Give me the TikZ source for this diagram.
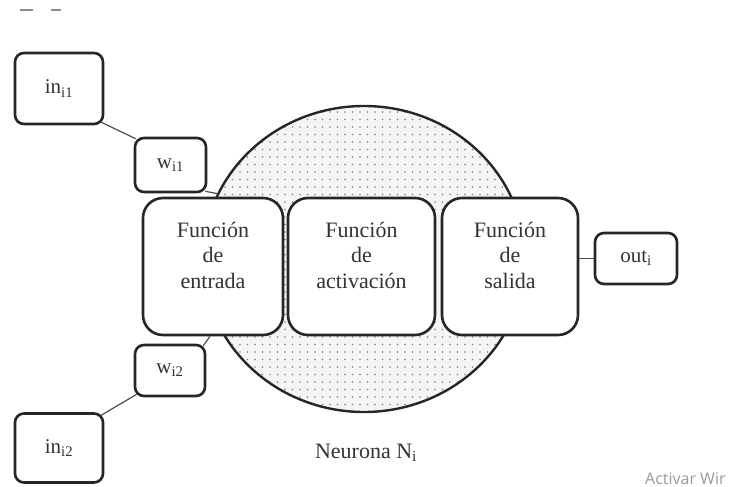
\documentclass[tikz,border=0pt]{standalone}
\usepackage{fontspec}
\setmainfont{Liberation Serif}
\newfontfamily\wmfont{Open Sans}
\usetikzlibrary{shapes.geometric,patterns.meta}
\begin{document}
\begin{tikzpicture}[x=1pt,y=1pt,
  box/.style={draw=black!85, line width=2.6pt, rounded corners=9pt, fill=white, inner sep=0pt,
              font=\fontsize{21}{24}\selectfont, text=black!80},
  bigbox/.style={box, rounded corners=20pt, minimum height=137pt},
  fn/.style={font=\fontsize{22}{25.5}\selectfont, align=center, inner sep=0pt, anchor=north, text=black!80},
  conn/.style={draw=black!70, line width=1.2pt},
  neuronstyle/.style={ellipse, draw=black!85, line width=2.4pt, inner sep=0pt,
              preaction={fill=black!4}, pattern={Dots[distance=7.5pt,radius=0.8pt]}, pattern color=black!50}]
\useasboundingbox (0,0) rectangle (734,-487);

% top-left fragments
\draw[black!45, line width=1.5pt] (20,-10) -- (33,-10);
\draw[black!45, line width=1.5pt] (51,-10) -- (61,-10);

% neuron body
\node[neuronstyle, minimum width=322pt, minimum height=306pt] (neuron) at (364,-259) {};

% function boxes
\node[bigbox, minimum width=140pt] (entrada) at (213,-266.5) {};
\node[bigbox, minimum width=147pt] (activacion) at (361.5,-266.5) {};
\node[bigbox, minimum width=136pt] (salida) at (510,-266.5) {};
\node[fn] (te) at (213,-222) {Función\\de\\entrada};
\node[fn] (ta) at (361.5,-222) {Función\\de\\activación};
\node[fn] (ts) at (510,-222) {Función\\de\\salida};

% inputs and weights
\node[box, minimum width=88pt, minimum height=71pt] (in1) at (59,-88.5) {in\textsubscript{i1}};
\node[box, minimum width=71pt, minimum height=54pt] (w1) at (170.5,-165) {w\textsubscript{i1}};
\node[box, minimum width=70pt, minimum height=51pt] (w2) at (170,-370.5) {w\textsubscript{i2}};
\node[box, minimum width=88pt, minimum height=69pt] (in2) at (59,-448) {in\textsubscript{i2}};
\node[box, minimum width=82pt, minimum height=51pt] (out) at (636,-258.5) {out\textsubscript{i}};

% connectors
\draw[conn] ([shift={(-3pt,3pt)}]in1.south east) -- ([shift={(2pt,-2pt)}]w1.north west);
\draw[conn] ([shift={(-2pt,2pt)}]w1.south east) -- (neuron.156);
\draw[conn] ([shift={(-3pt,-3pt)}]in2.north east) -- ([shift={(3pt,3pt)}]w2.south west);
\draw[conn] ([shift={(-3pt,-2pt)}]w2.north east) -- ([xshift=-3pt]entrada.south);
\draw[conn] (salida.east |- out.west) -- (out.west);

% captions
\node[font=\fontsize{22}{26}\selectfont, anchor=base, text=black!80, inner sep=0pt] (cap) at (366,-458) {Neurona N\textsubscript{i}};
\node[font=\wmfont\fontsize{16}{18}\selectfont, text=black!40, anchor=base west, inner sep=0pt] (wm) at (645,-484) {Activar Wir};
\end{tikzpicture}
\end{document}
